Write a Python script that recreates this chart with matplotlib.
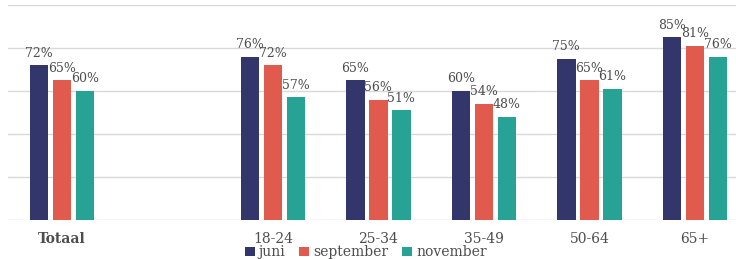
import numpy as np
import matplotlib
matplotlib.use("Agg")
from matplotlib import pyplot as plt

# data
categories = ["Totaal", "18-24", "25-34", "35-49", "50-64", "65+"]
positions = [0, 2, 3, 4, 5, 6]
series_names = ["juni", "september", "november"]
juni = [72, 76, 65, 60, 75, 85]
september = [65, 72, 56, 54, 65, 81]
november = [60, 57, 51, 48, 61, 76]

colors = ["#33366a", "#e05a4e", "#26a394"]
text_color = "#4d4d4d"
serif = ["DejaVu Serif"]

fig = plt.figure(figsize=(7.36, 2.59), dpi=100)
ax = fig.add_axes([0.0109, 0.1506, 0.9891, 0.8301])

width = 0.175
step = 0.218
x = np.array(positions, dtype=float)
for i, (name, values) in enumerate(zip(series_names, [juni, september, november])):
    xs = x + (i - 1) * step
    ax.bar(xs, values, width=width, color=colors[i], label=name, zorder=3)
    for xi, v in zip(xs, values):
        ax.annotate(f"{v}%", (xi, v), xytext=(0, 4), textcoords="offset points",
                    ha="center", va="bottom", fontsize=9, family=serif,
                    color=text_color)

ax.set_ylim(0, 100)
ax.set_xlim(-0.51, 6.39)
ax.set_yticks(np.arange(0, 101, 20))
ax.yaxis.grid(True, color="#d9d9d9", linewidth=1, zorder=0)
ax.tick_params(axis="y", left=False, labelleft=False)
ax.tick_params(axis="x", bottom=False, pad=5)
ax.set_xticks(positions)
ax.set_xticklabels(categories, family=serif, fontsize=10, color=text_color)
ax.get_xticklabels()[0].set_fontweight("bold")
for s in ax.spines.values():
    s.set_visible(False)

leg = fig.legend(loc="lower center", bbox_to_anchor=(0.497, -0.05), ncol=3,
                 frameon=False, handlelength=0.7, handleheight=0.7,
                 handletextpad=0.3, columnspacing=1.0,
                 prop={"family": serif, "size": 10})
for t in leg.get_texts():
    t.set_color(text_color)

fig.savefig("out.png", dpi=100)
